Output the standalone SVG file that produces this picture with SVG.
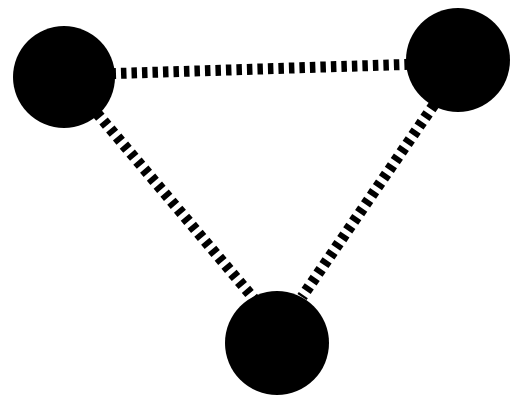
<svg xmlns="http://www.w3.org/2000/svg" width="511" height="401" viewBox="0 0 511 401">
<style>
.edge{stroke:#000;stroke-width:11;stroke-dasharray:5.5 5;fill:none}
.node{fill:#000}
</style>
<rect width="511" height="401" fill="#fff"/>
<g id="connectors">
<line class="edge" x1="100" y1="74" x2="420" y2="64"/>
<line class="edge" x1="90" y1="105" x2="255" y2="300"/>
<line class="edge" x1="440" y1="96" x2="302" y2="297"/>
</g>
<g id="node-left"><circle class="node" cx="64" cy="77" r="51"/></g>
<g id="node-right"><circle class="node" cx="458" cy="60" r="52"/></g>
<g id="node-bottom"><circle class="node" cx="277" cy="343" r="52"/></g>
</svg>
